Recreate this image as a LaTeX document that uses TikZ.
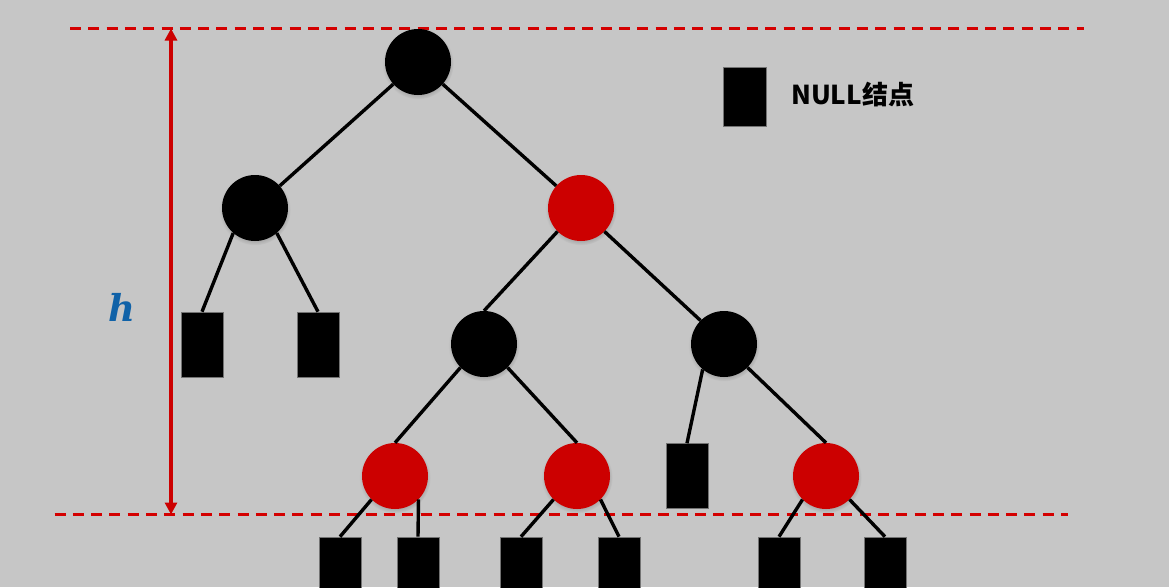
\documentclass[tikz,border=0pt]{standalone}
\usepackage{amsmath}
\usepackage{fontspec}
\newfontfamily\cjk{Noto Sans CJK SC}
\newfontfamily\hfont{DejaVu Serif}
\usetikzlibrary{arrows.meta,shadows}
\definecolor{bggray}{RGB}{198,198,198}
\definecolor{rbred}{RGB}{204,0,0}
\definecolor{lvlred}{RGB}{212,0,0}
\definecolor{hblue}{RGB}{16,98,168}

\begin{document}
\begin{tikzpicture}[
  x=1pt, y=-1pt,
  rbnode/.style={circle, inner sep=0pt, minimum size=66pt,
    circular drop shadow={shadow xshift=0pt, shadow yshift=-1.5pt, opacity=.45, shadow scale=1.08}},
  blacknode/.style={rbnode, fill=black},
  rednode/.style={rbnode, fill=rbred},
  nil/.style={rectangle, fill=black, draw=black!55, line width=.6pt, inner sep=0pt,
    minimum width=42pt, minimum height=65pt},
  edge/.style={line width=3.4pt},
  level/.style={lvlred, line width=3pt, dash pattern=on 11pt off 7.3pt},
  harrow/.style={rbred, line width=3.2pt, {Triangle[width=12pt,length=12pt]}-{Triangle[width=12pt,length=12pt]}}
]
\clip (0,0) rectangle (1169,587);
\fill[bggray] (0,0) rectangle (1169,587);

% Height bounds
\coordinate (topl) at (70,28.5);
\coordinate (topr) at (1084,28.5);
\coordinate (botl) at (54.5,514);
\coordinate (botr) at (1068,514);
\draw[level] (topl) -- (topr);
\draw[level] (botl) -- (botr);

\coordinate (htop) at (171,28.5);
\coordinate (hbot) at (171,514.5);
\draw[harrow] (htop) -- (hbot);
\node[hblue, inner sep=0pt, font=\hfont\fontsize{37}{37}\selectfont\bfseries\itshape] (hlabel) at (121.5,307.5) {h};

% Tree
\node[blacknode] (root) at (418,62) {};
\node[blacknode] (L) at (255,208) {};
\node[rednode] (R) at (581,208) {};
\node[blacknode] (RL) at (484,344) {};
\node[blacknode] (RR) at (724,344) {};
\node[rednode] (RLL) at (395,476) {};
\node[rednode] (RLR) at (577,476) {};
\node[rednode] (RRR) at (826,476) {};

% NULL leaves
\node[nil] (Lnil1) at (202,344.5) {};
\node[nil] (Lnil2) at (318,344.5) {};
\node[nil] (RRnil) at (687,476) {};
\node[nil] (RLLnil1) at (340,569.5) {};
\node[nil] (RLLnil2) at (418,569.5) {};
\node[nil] (RLRnil1) at (521,569.5) {};
\node[nil] (RLRnil2) at (619,569.5) {};
\node[nil] (RRRnil1) at (779,569.5) {};
\node[nil] (RRRnil2) at (885,569.5) {};

\draw[edge] (root) -- (L);
\draw[edge] (root) -- (R);
\draw[edge] (L.-131) -- (Lnil1.north);
\draw[edge] (L.-49) -- (Lnil2.north);
\draw[edge] (R.-135) -- (RL.north);
\draw[edge] (R.-45) -- (RR.135);
\draw[edge] (RL.-135) -- (RLL.north);
\draw[edge] (RL.-45) -- (RLR.north);
\draw[edge] (RR.-130) -- (RRnil.north);
\draw[edge] (RR.-45) -- (RRR.north);
\draw[edge] (RLL.-135) -- (RLLnil1.north);
\draw[edge] (RLL.-45) -- (RLLnil2.north);
\draw[edge] (RLR.-135) -- (RLRnil1.north);
\draw[edge] (RLR.-45) -- (RLRnil2.north);
\draw[edge] (RRR.-135) -- (RRRnil1.north);
\draw[edge] (RRR.-45) -- (RRRnil2.north);

% Legend
\node[nil, minimum width=43pt, minimum height=59pt] (key) at (744.5,96.5) {};
\node[anchor=base west, inner sep=0pt, font=\cjk\bfseries\fontsize{26}{26}\selectfont] (keytext) at (791,104) {NULL结点};
\end{tikzpicture}
\end{document}
